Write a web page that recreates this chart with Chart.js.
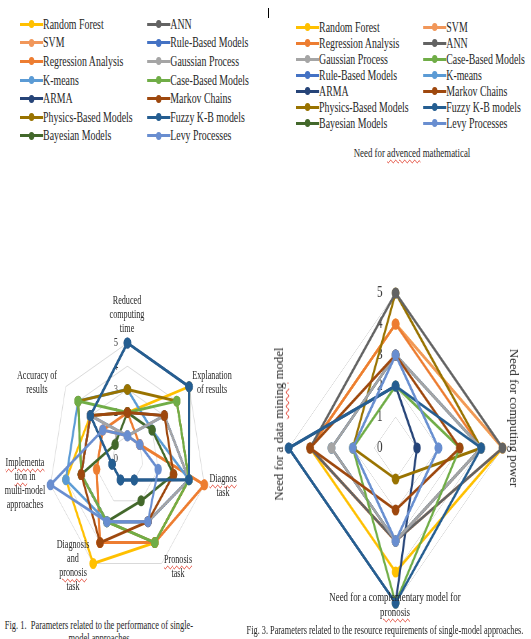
<!DOCTYPE html>
<html lang="en">
<head>
<meta charset="UTF-8">
<title>Single-model approaches</title>
<script src="https://cdn.jsdelivr.net/npm/chart.js"></script>
<style>
  body { margin: 0; background: #fff; }
  #page { position: relative; width: 531px; height: 639px; overflow: hidden;
    font-family: 'Liberation Serif', 'Times New Roman', serif; color: #262626; }
  .legend { position: absolute; display: grid; grid-template-columns: 187px 187px;
    transform: scaleX(0.68); transform-origin: 0 0; font-size: 14.5px; }
  #legPerf { left: 20px; top: 15px; grid-auto-flow: column; grid-template-rows: repeat(7, 18.6px); }
  #legRes { left: 296px; top: 19px; grid-template-rows: repeat(7, 16px); }
  .item { display: flex; align-items: center; white-space: nowrap; }
  .key { position: relative; width: 34px; height: 10px; flex: none; }
  .key::before { content: ''; position: absolute; left: 0; right: 0; top: 3.5px; height: 3px; background: var(--c); }
  .key::after { content: ''; position: absolute; left: 13px; top: 1px; width: 8px; height: 8px; border-radius: 50%; background: var(--c); }
  .box { position: absolute; transform-origin: 0 0; }
  .lbl { position: absolute; white-space: nowrap; text-align: center;
    transform: translate(-50%, -50%) scaleX(0.68); font-size: 12px; line-height: 14px; }
  .sp { text-decoration: underline wavy #e0301e; text-decoration-thickness: 1px; text-underline-offset: 2px; }
</style>
</head>
<body>
<div id="page">
  <div style="position:absolute;left:268px;top:8px;width:1px;height:10px;background:#000"></div>
  <div class="legend" id="legPerf"></div>
  <div class="legend" id="legRes"></div>

  <div class="box" id="boxPerf" style="left:38.6px;top:329px;width:260px;height:260px;transform:scaleX(0.68)">
    <canvas id="perfRadar"></canvas>
  </div>
  <div class="box" id="boxRes" style="left:279.4px;top:279px;width:338px;height:338px;transform:scaleX(0.69)">
    <canvas id="resRadar"></canvas>
  </div>

  <!-- Fig. 1 axis titles -->
  <div class="lbl" style="left:127px;top:314px">Reduced<br>computing<br>time</div>
  <div class="lbl" style="left:212px;top:382px">Explanation<br>of results</div>
  <div class="lbl" style="left:223px;top:485px"><span class="sp">Diagnos</span><br>task</div>
  <div class="lbl" style="left:178px;top:566px"><span class="sp">Pronosis</span><br>task</div>
  <div class="lbl" style="left:73px;top:565px">Diagnosis<br>and<br><span class="sp">pronosis</span><br>task</div>
  <div class="lbl" style="left:25px;top:483px"><span class="sp">Implementa</span><br><span class="sp">tion</span> in<br>multi-model<br>approaches</div>
  <div class="lbl" style="left:37px;top:382px">Accuracy of<br>results</div>

  <!-- Fig. 3 axis titles -->
  <div class="lbl" style="left:412px;top:153px;font-size:13px">Need for <span class="sp">advenced</span> mathematical</div>
  <div class="lbl" style="left:514px;top:418px;font-size:12.8px;transform:translate(-50%,-50%) rotate(90deg)">Need for computing power</div>
  <div class="lbl" style="left:279px;top:424px;font-size:12.8px;transform:translate(-50%,-50%) rotate(-90deg)">Need for a data <span class="sp">mining</span> model</div>
  <div class="lbl" style="left:395px;top:604px;font-size:13px;line-height:15px">Need for a complementary model for<br><span class="sp">pronosis</span></div>

  <!-- captions -->
  <div class="lbl" style="left:99px;top:631px;font-size:12.4px;line-height:12.5px">Fig. 1.&nbsp; Parameters related to the performance of single-<br>model approaches</div>
  <div class="lbl" style="left:385px;top:630px;font-size:12.2px">Fig. 3. Parameters related to the resource requirements of single-model approaches.</div>
</div>

<script>
  const methods = [
    'Random Forest', 'SVM', 'Regression Analysis', 'K-means', 'ARMA',
    'Physics-Based Models', 'Bayesian Models', 'ANN', 'Rule-Based Models',
    'Gaussian Process', 'Case-Based Models', 'Markov Chains', 'Fuzzy K-B models', 'Levy Processes'
  ];
  const methodColors = [
    '#FFC000', '#F1975A', '#ED7D31', '#5B9BD5', '#264478',
    '#997300', '#43682B', '#636363', '#4472C4',
    '#A5A5A5', '#70AD47', '#9E480E', '#255E91', '#698ED0'
  ];
  // legend order of Fig. 3 (row by row)
  const resLegendOrder = [
    'Random Forest', 'SVM', 'Regression Analysis', 'ANN', 'Gaussian Process', 'Case-Based Models',
    'Rule-Based Models', 'K-means', 'ARMA', 'Markov Chains', 'Physics-Based Models',
    'Fuzzy K-B models', 'Bayesian Models', 'Levy Processes'
  ];

  const tickValues = [0, 1, 2, 3, 4, 5];

  // Fig. 1 axes (clockwise from top)
  const perfAxes = [
    'Reduced computing time', 'Explanation of results', 'Diagnos task', 'Pronosis task',
    'Diagnosis and pronosis task', 'Implementation in multi-model approaches', 'Accuracy of results'
  ];
  const perfRandomForest = [2, 5, 4, 4, 5, 4, 3];
  const perfSVM          = [1, 1, 5, 4, 4, 2, 2];
  const perfRegression   = [2, 1, 5, 4, 4, 2, 2];
  const perfKMeans       = [3, 2, 4, 3, 3, 4, 4];
  const perfARMA         = [5, 5, 4, 1, 1, 1, 3];
  const perfPhysics      = [3, 4, 4, 4, 3, 3, 4];
  const perfBayesian     = [2, 2, 3, 2, 3, 3, 1];
  const perfANN          = [2, 3, 4, 3, 3, 3, 3];
  const perfRuleBased    = [1, 3, 4, 3, 3, 3, 3];
  const perfGaussian     = [1, 3, 4, 3, 3, 3, 3];
  const perfCaseBased    = [2, 4, 4, 4, 3, 3, 4];
  const perfMarkov       = [2, 3, 3, 3, 4, 3, 3];
  const perfFuzzy        = [5, 5, 4, 1, 1, 1, 3];
  const perfLevy         = [1, 1, 2, 3, 3, 5, 2];

  // Fig. 3 axes (clockwise from top)
  const resAxes = [
    'Need for advenced mathematical', 'Need for computing power',
    'Need for a complementary model for pronosis', 'Need for a data mining model'
  ];
  const resRandomForest = [4, 5, 4, 4];
  const resSVM          = [4, 5, 3, 4];
  const resRegression   = [4, 4, 3, 4];
  const resKMeans       = [3, 2, 3, 2];
  const resARMA         = [2, 1, 5, 5];
  const resPhysics      = [5, 4, 1, 2];
  const resBayesian     = [3, 4, 3, 3];
  const resANN          = [5, 5, 3, 4];
  const resRuleBased    = [3, 4, 3, 3];
  const resGaussian     = [3, 4, 3, 3];
  const resCaseBased    = [2, 3, 5, 2];
  const resMarkov       = [3, 3, 2, 4];
  const resFuzzy        = [2, 4, 5, 5];
  const resLevy         = [3, 2, 3, 2];

  const perfValues = [perfRandomForest, perfSVM, perfRegression, perfKMeans, perfARMA, perfPhysics,
    perfBayesian, perfANN, perfRuleBased, perfGaussian, perfCaseBased, perfMarkov, perfFuzzy, perfLevy];
  const resValues = [resRandomForest, resSVM, resRegression, resKMeans, resARMA, resPhysics,
    resBayesian, resANN, resRuleBased, resGaussian, resCaseBased, resMarkov, resFuzzy, resLevy];

  function buildLegend(id, names) {
    const el = document.getElementById(id);
    names.forEach(name => {
      const c = methodColors[methods.indexOf(name)];
      const item = document.createElement('div');
      item.className = 'item';
      item.innerHTML = `<span class="key" style="--c:${c}"></span><span>${name}</span>`;
      el.appendChild(item);
    });
  }
  buildLegend('legPerf', methods);
  buildLegend('legRes', resLegendOrder);

  // tick numbers sit a little left of the vertical axis
  const tickLabels = {
    id: 'tickLabels',
    beforeDatasetsDraw(chart, args, opts) {
      const r = chart.scales.r;
      const ctx = chart.ctx;
      ctx.save();
      ctx.font = opts.font;
      ctx.fillStyle = '#404040';
      ctx.textAlign = 'center';
      ctx.textBaseline = 'middle';
      tickValues.forEach(v => {
        ctx.fillText(String(v), r.xCenter + opts.dx, r.yCenter - r.getDistanceFromCenterForValue(v));
      });
      ctx.restore();
    }
  };

  function makeSets(values) {
    return methods.map((name, i) => ({
      label: name,
      data: values[i],
      borderColor: methodColors[i],
      backgroundColor: methodColors[i],
      pointBackgroundColor: methodColors[i],
      pointBorderColor: methodColors[i],
      borderWidth: 3,
      pointRadius: 4,
      fill: false,
      order: methods.length - i
    }));
  }

  function makeChart(id, labels, values, tickFont, tickDx) {
    return new Chart(document.getElementById(id), {
      type: 'radar',
      data: { labels: labels, datasets: makeSets(values) },
      options: {
        responsive: true,
        maintainAspectRatio: false,
        animation: false,
        layout: { padding: 14 },
        scales: {
          r: {
            min: 0,
            max: 5,
            ticks: { display: false, stepSize: 1 },
            grid: { color: '#d9d9d9', lineWidth: 1 },
            angleLines: { display: false },
            pointLabels: { display: false }
          }
        },
        plugins: {
          legend: { display: false },
          tooltip: { enabled: false },
          tickLabels: { font: tickFont, dx: tickDx }
        }
      },
      plugins: [tickLabels]
    });
  }

  makeChart('perfRadar', perfAxes, perfValues, '13px "Liberation Serif", serif', -17);
  makeChart('resRadar', resAxes, resValues, '16px "Liberation Serif", serif', -23);
</script>
</body>
</html>
